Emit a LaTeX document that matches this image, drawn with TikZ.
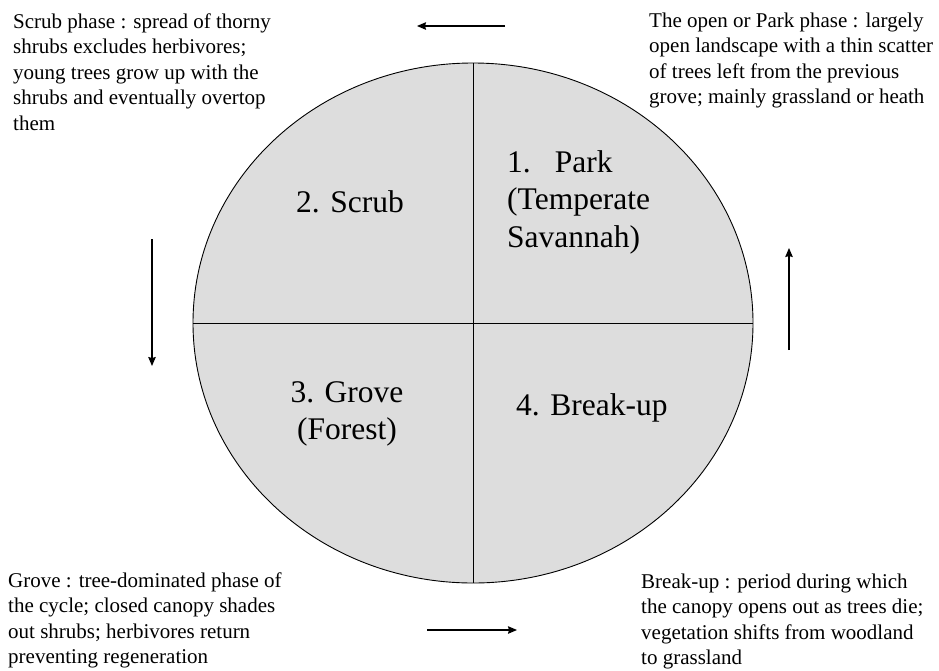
\documentclass[tikz,border=0pt]{standalone}
\usepackage{fontspec}
\setmainfont{Liberation Serif}
\newfontfamily\phasefont{Liberation Serif}
\usetikzlibrary{arrows.meta,shapes.geometric}
\definecolor{phasefill}{RGB}{221,221,221}
\tikzset{
  note/.style={anchor=north west,inner sep=0pt,align=left,font=\rmfamily\fontsize{21}{25.5}\selectfont},
  big/.style={inner sep=0pt,font=\phasefont\fontsize{31.5}{37.5}\selectfont},
  cyclearrow/.style={line width=1.1pt,-{Stealth[length=9pt,width=7.5pt,inset=1pt]}},
  divider/.style={line width=0.9pt}
}
\begin{document}
\begin{tikzpicture}[x=1pt,y=-1pt]
\useasboundingbox (0,0) rectangle (939,670);
\node[draw,line width=0.9pt,fill=phasefill,ellipse,minimum width=560pt,minimum height=520pt,inner sep=0pt] (e) at (473,323) {};
\draw[divider] (e.north) -- (e.south);
\draw[divider] (e.west) -- (e.east);
% phase labels
\node[big,anchor=north west,align=left] (park) at (507,145.75) {\strut 1.\hspace{24pt}Park\\(Temperate\\Savannah)};
\node[big,anchor=base west] (scrub) at (296,212) {2. Scrub};
\node[big,anchor=north,align=center] (grove) at (347,375.75) {\strut 3. Grove\\(Forest)};
\node[big,anchor=base west] (breakup) at (516,415) {4. Break-up};
% notes
\node[note] (nscrub) at (13,10.15) {\strut Scrub phase : spread of thorny\\shrubs excludes herbivores;\\young trees grow up with the\\shrubs and eventually overtop\\them};
\node[note] (npark) at (649,9.15) {\strut The open or Park phase : largely\\open landscape with a thin scatter\\of trees left from the previous\\grove; mainly grassland or heath};
\node[note] (ngrove) at (8,569.15) {\strut Grove : tree-dominated phase of\\the cycle; closed canopy shades\\out shrubs; herbivores return\\preventing regeneration};
\node[note] (nbreak) at (641,570.15) {\strut Break-up : period during which\\the canopy opens out as trees die;\\vegetation shifts from woodland\\to grassland};
% arrows
\coordinate (ta) at (505,26); \coordinate (tb) at (417,26);
\coordinate (la) at (152,239); \coordinate (lb) at (152,366);
\coordinate (ba) at (427,630); \coordinate (bb) at (517,630);
\coordinate (ra) at (789,350); \coordinate (rb) at (789,248);
\draw[cyclearrow] (ta) -- (tb);
\draw[cyclearrow] (la) -- (lb);
\draw[cyclearrow] (ba) -- (bb);
\draw[cyclearrow] (ra) -- (rb);
\end{tikzpicture}
\end{document}
